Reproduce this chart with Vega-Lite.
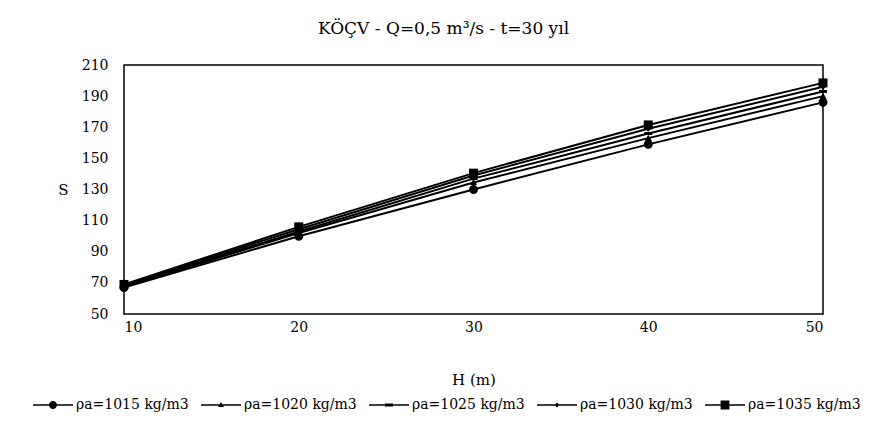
{
  "$schema": "https://vega.github.io/schema/vega-lite/v6.json",
  "width": 699,
  "height": 249,
  "autosize": {"type": "none"},
  "padding": {"left": 124, "top": 65, "right": 61, "bottom": 127},
  "background": "white",
  "title": {"text": "KÖÇV - Q=0,5 m³/s - t=30 yıl", "font": "DejaVu Serif", "fontSize": 17, "fontWeight": "normal", "color": "black", "anchor": "middle", "dx": -30, "offset": 20},
  "config": {
    "view": {"stroke": "black", "strokeWidth": 1.5},
    "axis": {"domain": false, "grid": false, "ticks": false, "labelFont": "DejaVu Serif", "labelFontSize": 14, "labelColor": "black", "titleFont": "DejaVu Serif", "titleFontSize": 15, "titleFontWeight": "normal", "titleColor": "black"}
  },
  "data": {"values": [
    {"series": "ρa=1015 kg/m3", "H": 10, "S": 67},
    {"series": "ρa=1015 kg/m3", "H": 20, "S": 100},
    {"series": "ρa=1015 kg/m3", "H": 30, "S": 130},
    {"series": "ρa=1015 kg/m3", "H": 40, "S": 159},
    {"series": "ρa=1015 kg/m3", "H": 50, "S": 186},
    {"series": "ρa=1020 kg/m3", "H": 10, "S": 67.5},
    {"series": "ρa=1020 kg/m3", "H": 20, "S": 102},
    {"series": "ρa=1020 kg/m3", "H": 30, "S": 134.5},
    {"series": "ρa=1020 kg/m3", "H": 40, "S": 163},
    {"series": "ρa=1020 kg/m3", "H": 50, "S": 190},
    {"series": "ρa=1025 kg/m3", "H": 10, "S": 68},
    {"series": "ρa=1025 kg/m3", "H": 20, "S": 103},
    {"series": "ρa=1025 kg/m3", "H": 30, "S": 137},
    {"series": "ρa=1025 kg/m3", "H": 40, "S": 166},
    {"series": "ρa=1025 kg/m3", "H": 50, "S": 193},
    {"series": "ρa=1030 kg/m3", "H": 10, "S": 68.5},
    {"series": "ρa=1030 kg/m3", "H": 20, "S": 104.5},
    {"series": "ρa=1030 kg/m3", "H": 30, "S": 139},
    {"series": "ρa=1030 kg/m3", "H": 40, "S": 169},
    {"series": "ρa=1030 kg/m3", "H": 50, "S": 196},
    {"series": "ρa=1035 kg/m3", "H": 10, "S": 69},
    {"series": "ρa=1035 kg/m3", "H": 20, "S": 106},
    {"series": "ρa=1035 kg/m3", "H": 30, "S": 140.5},
    {"series": "ρa=1035 kg/m3", "H": 40, "S": 171.5},
    {"series": "ρa=1035 kg/m3", "H": 50, "S": 198.5}
  ]},
  "encoding": {
    "x": {"field": "H", "type": "quantitative", "scale": {"domain": [10, 50], "nice": false, "zero": false}, "axis": {"values": [10, 20, 30, 40, 50], "title": "H (m)", "labelPadding": 6, "titlePadding": 38}},
    "y": {"field": "S", "type": "quantitative", "scale": {"domain": [50, 210], "nice": false, "zero": false}, "axis": {"values": [50, 70, 90, 110, 130, 150, 170, 190, 210], "title": "S", "titleAngle": 0, "titleX": -61, "titleY": 124, "titleAlign": "center", "titleBaseline": "middle", "labelPadding": 16}}
  },
  "layer": [
    {"mark": {"type": "line", "color": "black", "strokeWidth": 2}, "encoding": {"detail": {"field": "series"}}},
    {"mark": {"type": "point", "filled": true, "color": "black", "opacity": 1, "size": 100},
     "encoding": {"shape": {"field": "series", "type": "nominal", "legend": null, "scale": {"range": [
       "M-0.9,0A0.9,0.9 0 1,1 0.9,0A0.9,0.9 0 1,1 -0.9,0Z",
       "M0,-0.7L0.7,0.5H-0.7Z",
       "M-0.8,-0.3H0.8V0.3H-0.8Z",
       "M0,-0.6L0.6,0L0,0.6L-0.6,0Z",
       "M-0.9,-0.9H0.9V0.9H-0.9Z"]}}}},
    {"mark": {"type": "point", "filled": true, "color": "black", "opacity": 0, "size": 1600},
     "encoding": {"shape": {"field": "series", "type": "nominal", "scale": {"range": [
       "M-1,-0.04H1V0.04H-1ZM-0.2,0A0.2,0.2 0 1,1 0.2,0A0.2,0.2 0 1,1 -0.2,0Z",
       "M-1,-0.04H1V0.04H-1ZM0,-0.15L0.15,0.1H-0.15Z",
       "M-1,-0.04H1V0.04H-1ZM-0.2,-0.07H0.2V0.07H-0.2Z",
       "M-1,-0.04H1V0.04H-1ZM0,-0.12L0.12,0L0,0.12L-0.12,0Z",
       "M-1,-0.04H1V0.04H-1ZM-0.22,-0.22H0.22V0.22H-0.22Z"]},
       "legend": {"title": null, "orient": "none", "legendX": -91, "legendY": 320, "direction": "horizontal", "columns": 5, "padding": 0, "columnPadding": 12, "symbolSize": 1600, "symbolOpacity": 1, "symbolFillColor": "black", "symbolStrokeColor": "black", "symbolStrokeWidth": 0, "labelOffset": 3, "labelFont": "DejaVu Serif", "labelFontSize": 14, "labelColor": "black", "labelLimit": 300}}}}
  ],
  "resolve": {"scale": {"shape": "independent"}}
}
